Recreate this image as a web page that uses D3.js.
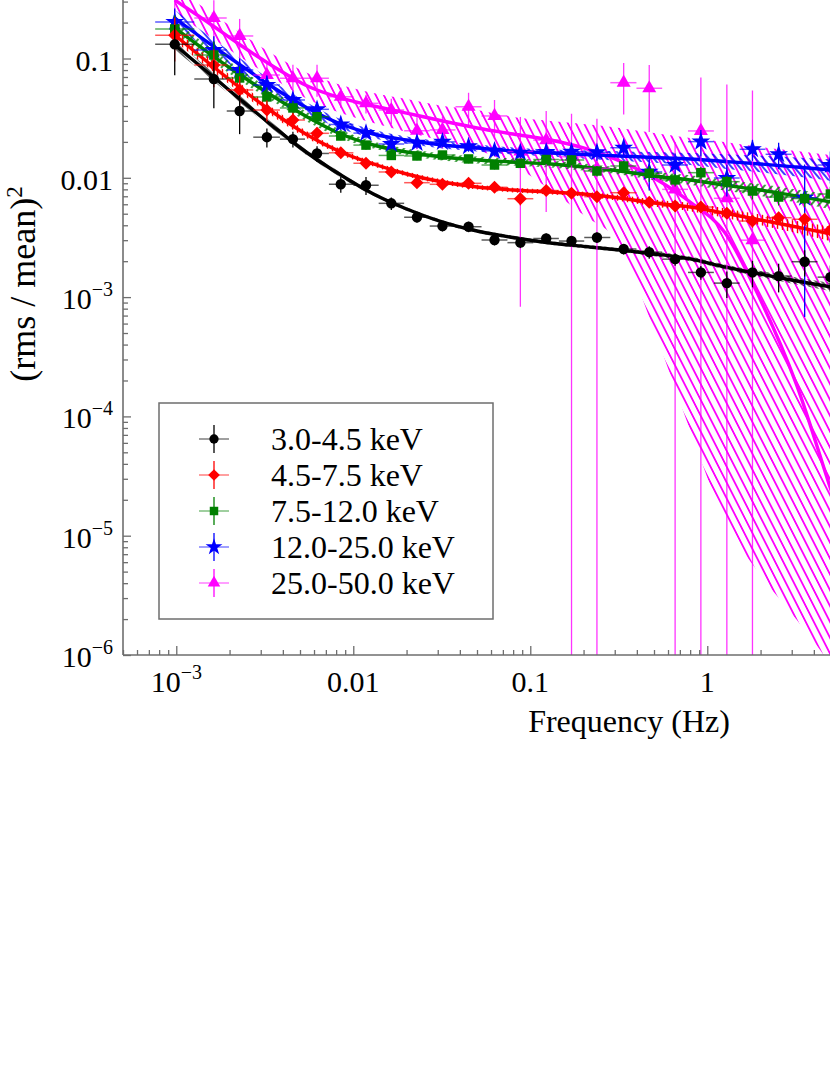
<!DOCTYPE html>
<html>
<head>
<meta charset="utf-8">
<script src="https://cdn.jsdelivr.net/npm/d3@7"></script>
<style>
    body { margin: 0; background: #fff; }
    svg { display: block; font-family: "Liberation Serif", "Times New Roman", serif; }
</style>
</head>
<body>
<div id="chart"></div>
<script>
// frequency bins (Hz), shared by all energy bands
const freq = [0.00098, 0.00163, 0.00228, 0.00325, 0.00456, 0.00624, 0.0085, 0.0118, 0.0164, 0.0229,
    0.0319, 0.0448, 0.0628, 0.0879, 0.123, 0.171, 0.238, 0.337, 0.470, 0.658,
    0.920, 1.29, 1.80, 2.53, 3.55, 4.96];

const bandLabels = ["3.0-4.5 keV", "4.5-7.5 keV", "7.5-12.0 keV", "12.0-25.0 keV", "25.0-50.0 keV"];
const colors = ["#000000", "#ff0000", "#008000", "#0000ff", "#ff00ff"];

// power (rms/mean)^2 and relative errors
const powBlack = [0.1315, 0.0673, 0.0363, 0.0219, 0.0211, 0.0160, 0.00883, 0.00866, 0.00611, 0.00467,
    0.00394, 0.00389, 0.00301, 0.00286, 0.00310, 0.00295, 0.00316, 0.00253, 0.00238, 0.00208,
    0.00161, 0.00131, 0.00161, 0.00150, 0.00198, 0.00147];
const errBlack = [0.45, 0.43, 0.36, 0.18, 0.15, 0.15, 0.15, 0.17, 0.12, 0.1, 0.1, 0.1, 0.1, 0.1, 0.1,
    0.1, 0.1, 0.1, 0.12, 0.12, 0.13, 0.25, 0.25, 0.27, 0.25, 0.25];

const powRed = [0.157, 0.0883, 0.0545, 0.0370, 0.0305, 0.0236, 0.0162, 0.01324, 0.01119, 0.00910,
    0.00882, 0.00899, 0.00832, 0.00668, 0.00782, 0.00741, 0.00695, 0.00750, 0.00623, 0.00580,
    0.00569, 0.00504, 0.00434, 0.00463, 0.00449, 0.00365];
const errRed = [0.4, 0.35, 0.3, 0.2, 0.15, 0.12, 0.1, 0.09, 0.08, 0.08, 0.08, 0.08, 0.08, 0.12, 0.08,
    0.08, 0.08, 0.08, 0.08, 0.1, 0.1, 0.1, 0.12, 0.12, 0.12, 0.15];

const powGreen = [0.1766, 0.107, 0.0687, 0.0476, 0.0385, 0.0325, 0.0224, 0.0188, 0.0154, 0.01524,
    0.01552, 0.01439, 0.0128, 0.01324, 0.01423, 0.0141, 0.0114, 0.01256, 0.01091, 0.0096,
    0.01104, 0.00928, 0.00775, 0.0069, 0.0067, 0.00731];
const errGreen = [0.3, 0.3, 0.25, 0.2, 0.15, 0.1, 0.08, 0.08, 0.08, 0.08, 0.08, 0.08, 0.08, 0.08, 0.08,
    0.1, 0.1, 0.1, 0.15, 0.12, 0.12, 0.12, 0.15, 0.15, 0.15, 0.15];

const powBlue = [0.2023, 0.1179, 0.0801, 0.0600, 0.0449, 0.0375, 0.0280, 0.0237, 0.0192, 0.0196,
    0.0200, 0.01837, 0.0168, 0.01623, 0.01645, 0.01655, 0.01636, 0.01787, 0.0112, 0.0128,
    0.0201, 0.00996, 0.01734, 0.01574, 0.0068, 0.0128];
const errBlue = [0.3, 0.3, 0.25, 0.2, 0.15, 0.12, 0.1, 0.1, 0.1, 0.1, 0.1, 0.1, 0.1, 0.1, 0.12,
    0.12, 0.15, 0.15, 0.3, 0.25, 0.25, 0.3, 0.2, 0.25, 0.9, 0.3];

const powMagenta = [0.34, 0.2185, 0.1545, 0.0727, 0.0683, 0.0683, 0.0478, 0.0421, 0.0370, 0.0248,
    0.0252, 0.0394, 0.0330, 0.0166, 0.0207, 0.015, 0.012, 0.0627, 0.0563, 0.008,
    0.0247, 0.00673, 0.003, null, null, null];
const errMagenta = [0.3, 0.41, 0.39, 0.3, 0.3, 0.3, 0.19, 0.18, 0.24, 0.3, 0.3, 0.31, 0.36, 0.95, 0.75,
    1.3, 1.6, 0.46, 0.57, 1.5, 1.8, 8, 17, null, null, null];

// best-fit models sampled on a frequency grid
const fitFreq = [0.00098, 0.0015, 0.0023, 0.0035, 0.0055, 0.0085, 0.013, 0.02, 0.032, 0.05, 0.08,
    0.13, 0.2, 0.32, 0.5, 0.8, 1.25, 2, 3.2, 5, 8];
const fitBlack = [0.1298, 0.0770, 0.0453, 0.02718, 0.01614, 0.01055, 0.00731, 0.00548, 0.00426, 0.00358,
    0.00316, 0.00284, 0.00266, 0.00248, 0.00230, 0.00209, 0.00179, 0.00156, 0.001365, 0.001215, 0.001082];
const fitRed = [0.1574, 0.0935, 0.0566, 0.0356, 0.02285, 0.01646, 0.01305, 0.01076, 0.00922, 0.00837,
    0.00790, 0.00760, 0.00731, 0.00677, 0.00615, 0.00569, 0.00507, 0.00443, 0.00387, 0.00338, 0.00295];
const fitGreen = [0.1802, 0.1133, 0.0727, 0.0485, 0.03233, 0.02329, 0.01883, 0.01645, 0.01494, 0.01410,
    0.01357, 0.01305, 0.01232, 0.01140, 0.01035, 0.00959, 0.00870, 0.00790, 0.00704, 0.00627, 0.00558];
const fitBlue = [0.2185, 0.1374, 0.0882, 0.0577, 0.03846, 0.02825, 0.02329, 0.02074, 0.01883, 0.01778,
    0.01678, 0.01614, 0.01568, 0.01523, 0.01480, 0.01437, 0.01370, 0.01305, 0.01232, 0.01162, 0.01097];
const fitMagenta = [0.3093, 0.2023, 0.1298, 0.0866, 0.0588, 0.0467, 0.0400, 0.0349, 0.02993, 0.02615,
    0.02329, 0.02074, 0.01778, 0.01383, 0.00996, 0.00627, 0.00351, 0.000946, 0.000183, 2.415e-5, 2.89e-6];

// confidence bands: half width in dex for the narrow ones, explicit bounds for 25-50 keV
const bandWBlack = [0.04, 0.035, 0.03, 0.025, 0.02, 0.02, 0.015, 0.015, 0.015, 0.015, 0.015,
    0.015, 0.015, 0.015, 0.02, 0.02, 0.02, 0.025, 0.03, 0.035, 0.04];
const bandWRed = [0.05, 0.045, 0.04, 0.035, 0.03, 0.025, 0.02, 0.02, 0.02, 0.02, 0.02,
    0.02, 0.02, 0.025, 0.03, 0.035, 0.04, 0.045, 0.05, 0.06, 0.07];
const bandWGreen = [0.06, 0.055, 0.05, 0.045, 0.04, 0.035, 0.03, 0.03, 0.03, 0.03, 0.03,
    0.03, 0.03, 0.03, 0.035, 0.04, 0.045, 0.05, 0.055, 0.06, 0.065];
const bandWBlue = [0.07, 0.06, 0.055, 0.05, 0.045, 0.04, 0.035, 0.03, 0.03, 0.03, 0.03,
    0.03, 0.035, 0.04, 0.045, 0.05, 0.06, 0.07, 0.08, 0.09, 0.1];
const magentaHi = [0.390, 0.2549, 0.1636, 0.1091, 0.0755, 0.0600, 0.0514, 0.0457, 0.0400, 0.0370,
    0.03233, 0.02993, 0.02825, 0.02615, 0.02373, 0.02156, 0.01996, 0.01812, 0.01678, 0.01553, 0.01437];
const magentaLo = [0.2454, 0.1574, 0.1029, 0.0686, 0.0457, 0.0349, 0.0288, 0.0242, 0.02035, 0.0171,
    0.0128, 0.0079, 0.00488, 0.00273, 0.00053, 7.69e-5, 1.354e-5, 4.68e-6, 1.97e-6, 8.24e-7, 2.85e-7];

const xTickVals = [1e-3, 0.01, 0.1, 1, 10];
const xTickLabels = [["10", "\u22123"], ["0.01"], ["0.1"], ["1"], ["10"]];
const yTickVals = [0.1, 0.01, 1e-3, 1e-4, 1e-5, 1e-6];
const yTickLabels = [["0.1"], ["0.01"], ["10", "\u22123"], ["10", "\u22124"], ["10", "\u22125"], ["10", "\u22126"]];

const width = 830, height = 1075;
const plotL = 123, plotB = 655;

const svg = d3.select("#chart").append("svg")
    .attr("width", width)
    .attr("height", height);

const x = d3.scaleLog().domain([5e-4, 20]).range([plotL, plotL + 177 * Math.log10(20 / 5e-4)]);
const y = d3.scaleLog().domain([1e-6, 1]).range([plotB, plotB - 6 * 119.3]);
const yc = v => (v == null || v <= 0) ? plotB + 20 : y(v);

const defs = svg.append("defs");
defs.append("clipPath").attr("id", "plotclip")
    .append("rect").attr("x", plotL).attr("y", -80).attr("width", 900).attr("height", plotB + 80);

const hatch = (id, color, size, angle, sw) => {
    const p = defs.append("pattern").attr("id", id)
        .attr("patternUnits", "userSpaceOnUse")
        .attr("width", size).attr("height", size)
        .attr("patternTransform", `rotate(${angle})`);
    p.append("line").attr("x1", size / 2).attr("x2", size / 2).attr("y1", 0).attr("y2", size)
        .attr("stroke", color).attr("stroke-width", sw);
};
hatch("h0", colors[0], 4, -45, 1.2);
hatch("h1", colors[1], 5, 0, 1.4);
hatch("h2", colors[2], 6, 40, 1.5);
hatch("h3", colors[3], 6, -40, 1.5);
hatch("h4", colors[4], 7.2, -27, 1.8);

const widen = (fit, w, s) => fit.map((v, i) => v * Math.pow(10, s * w[i]));

const series = [
    {vals: powBlack, err: errBlack, fit: fitBlack, lo: widen(fitBlack, bandWBlack, -1), hi: widen(fitBlack, bandWBlack, 1), symbol: d3.symbolCircle, size: 85, rot: 0},
    {vals: powRed, err: errRed, fit: fitRed, lo: widen(fitRed, bandWRed, -1), hi: widen(fitRed, bandWRed, 1), symbol: d3.symbolSquare, size: 85, rot: 45},
    {vals: powGreen, err: errGreen, fit: fitGreen, lo: widen(fitGreen, bandWGreen, -1), hi: widen(fitGreen, bandWGreen, 1), symbol: d3.symbolSquare, size: 90, rot: 0},
    {vals: powBlue, err: errBlue, fit: fitBlue, lo: widen(fitBlue, bandWBlue, -1), hi: widen(fitBlue, bandWBlue, 1), symbol: d3.symbolStar, size: 110, rot: 0},
    {vals: powMagenta, err: errMagenta, fit: fitMagenta, lo: magentaLo, hi: magentaHi, symbol: d3.symbolTriangle, size: 85, rot: 0}
];
series.forEach((s, i) => { s.color = colors[i]; s.label = bandLabels[i]; s.id = i; });

// bin edges for the horizontal error bars
const edges = freq.map((f, i) => {
    const left = i > 0 ? Math.sqrt(freq[i - 1] * f) : f * f / Math.sqrt(f * freq[1]);
    const right = i < freq.length - 1 ? Math.sqrt(freq[i + 1] * f) : f * f / Math.sqrt(f * freq[i - 1]);
    return [left, right];
});

const plot = svg.append("g").attr("clip-path", "url(#plotclip)");

const drawOrder = [4, 3, 2, 1, 0];

// hatched confidence bands
drawOrder.forEach(k => {
    const s = series[k];
    const area = d3.area()
        .x((d, i) => x(fitFreq[i]))
        .y0((d, i) => y(s.lo[i]))
        .y1((d, i) => y(s.hi[i]))
        .curve(d3.curveMonotoneX);
    plot.append("path")
        .datum(fitFreq)
        .attr("d", area)
        .attr("fill", `url(#h${k})`)
        .attr("stroke", "none");
});

// best-fit lines
drawOrder.forEach(k => {
    const s = series[k];
    const line = d3.line()
        .x((d, i) => x(fitFreq[i]))
        .y(d => y(d))
        .curve(d3.curveMonotoneX);
    plot.append("path")
        .datum(s.fit)
        .attr("d", line)
        .attr("fill", "none")
        .attr("stroke", s.color)
        .attr("stroke-width", 3.4);
});

// data points with error bars
drawOrder.forEach(k => {
    const s = series[k];
    const pts = freq.map((f, i) => ({f, v: s.vals[i], e: s.err[i], i})).filter(d => d.v != null);
    const g = plot.append("g");
    g.selectAll("line.xe").data(pts).join("line")
        .attr("class", "xe")
        .attr("x1", d => x(edges[d.i][0]))
        .attr("x2", d => x(edges[d.i][1]))
        .attr("y1", d => y(d.v)).attr("y2", d => y(d.v))
        .attr("stroke", s.color).attr("stroke-opacity", 0.65).attr("stroke-width", 1.5);
    g.selectAll("line.ye").data(pts).join("line")
        .attr("class", "ye")
        .attr("x1", d => x(d.f)).attr("x2", d => x(d.f))
        .attr("y1", d => yc(d.v * (1 - d.e)))
        .attr("y2", d => yc(d.v * (1 + d.e)))
        .attr("stroke", s.color).attr("stroke-opacity", k === 4 ? 0.8 : 1).attr("stroke-width", 1.3);
    g.selectAll("path.mk").data(pts).join("path")
        .attr("class", "mk")
        .attr("d", d3.symbol().type(s.symbol).size(s.size))
        .attr("transform", d => `translate(${x(d.f)},${y(d.v)}) rotate(${s.rot})`)
        .attr("fill", s.color);
});

// axes
const axisColor = "#6e6e6e";
const xMinor = x.ticks().filter(v => !xTickVals.some(t => Math.abs(t - v) / t < 1e-6));
const yMinor = y.ticks().filter(v => !yTickVals.some(t => Math.abs(t - v) / t < 1e-6));

const styleAxis = g => {
    g.select(".domain").remove();
    g.selectAll(".tick line").attr("stroke", axisColor).attr("stroke-width", 1.3);
};

svg.append("g").attr("transform", `translate(0,${plotB})`)
    .call(d3.axisBottom(x).tickValues(xMinor).tickSize(-5).tickFormat(""))
    .call(styleAxis);
svg.append("g").attr("transform", `translate(0,${plotB})`)
    .call(d3.axisBottom(x).tickValues(xTickVals).tickSize(-9).tickFormat(""))
    .call(styleAxis);
svg.append("g").attr("transform", `translate(${plotL},0)`)
    .call(d3.axisLeft(y).tickValues(yMinor).tickSize(-5).tickFormat(""))
    .call(styleAxis);
svg.append("g").attr("transform", `translate(${plotL},0)`)
    .call(d3.axisLeft(y).tickValues(yTickVals).tickSize(-8).tickFormat(""))
    .call(styleAxis);

svg.append("line").attr("x1", plotL).attr("x2", width + 10).attr("y1", plotB).attr("y2", plotB)
    .attr("stroke", axisColor).attr("stroke-width", 1.6);
svg.append("line").attr("x1", plotL).attr("x2", plotL).attr("y1", -10).attr("y2", plotB)
    .attr("stroke", axisColor).attr("stroke-width", 1.6);

const writeLabel = (sel, lab) => {
    sel.append("tspan").text(lab[0]);
    if (lab.length > 1) {
        sel.append("tspan").attr("dy", -13).attr("font-size", 20).text(lab[1]);
    }
};

// only labels that fall inside the page
xTickVals.forEach((v, i) => {
    if (x(v) > width - 20) return;
    const t = svg.append("text")
        .attr("x", x(v)).attr("y", 692)
        .attr("text-anchor", "middle")
        .attr("font-size", 30)
        .attr("fill", "#000");
    writeLabel(t, xTickLabels[i]);
});

yTickVals.forEach((v, i) => {
    const t = svg.append("text")
        .attr("x", 113).attr("y", y(v) + 12)
        .attr("text-anchor", "end")
        .attr("font-size", 30)
        .attr("fill", "#000");
    writeLabel(t, yTickLabels[i]);
});

svg.append("text")
    .attr("x", 629).attr("y", 732)
    .attr("text-anchor", "middle")
    .attr("font-size", 32)
    .text("Frequency (Hz)");

const ylab = svg.append("text")
    .attr("transform", "translate(35,284) rotate(-90)")
    .attr("text-anchor", "middle")
    .attr("font-size", 36);
ylab.append("tspan").text("(rms / mean)");
ylab.append("tspan").attr("dy", -13).attr("font-size", 23).text("2");

// legend
const legend = svg.append("g");
legend.append("rect")
    .attr("x", 159).attr("y", 403).attr("width", 334).attr("height", 216)
    .attr("fill", "#fff").attr("stroke", "#6e6e6e").attr("stroke-width", 1.5);

const rows = legend.selectAll("g.row").data(series).join("g")
    .attr("class", "row")
    .attr("transform", (d, i) => `translate(214,${439 + i * 36})`);
rows.append("line").attr("x1", -15).attr("x2", 15).attr("y1", 0).attr("y2", 0)
    .attr("stroke", d => d.color).attr("stroke-opacity", 0.5).attr("stroke-width", 1.5);
rows.append("line").attr("x1", 0).attr("x2", 0).attr("y1", -14).attr("y2", 14)
    .attr("stroke", d => d.color).attr("stroke-width", 1.3);
rows.append("path")
    .attr("d", d => d3.symbol().type(d.symbol).size(d.size * 0.8)())
    .attr("transform", d => `rotate(${d.rot})`)
    .attr("fill", d => d.color);
rows.append("text")
    .attr("x", 57).attr("y", 11)
    .attr("font-size", 32)
    .text(d => d.label);
</script>
</body>
</html>
